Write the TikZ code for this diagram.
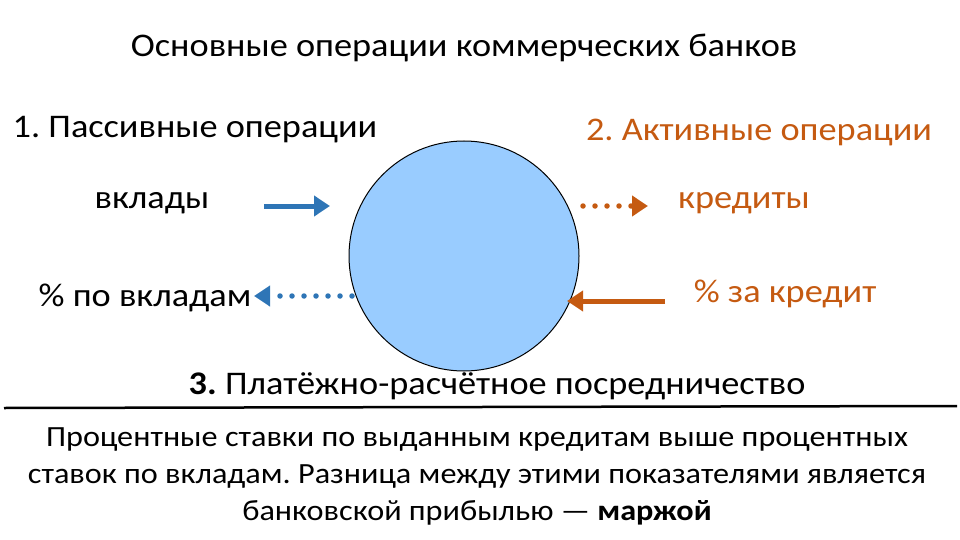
\documentclass[tikz,border=0pt]{standalone}
\usepackage{fontspec}
\setmainfont{Carlito}[FakeStretch=1.1]
\usetikzlibrary{arrows.meta}
\frenchspacing

\definecolor{bankblue}{HTML}{2E75B6}
\definecolor{bankorange}{HTML}{C55A11}
\definecolor{circlefill}{HTML}{99CCFF}

\begin{document}
\begin{tikzpicture}[x=1pt, y=-1pt,
    label/.style={inner sep=0pt, font=\fontsize{33}{36}\selectfont},
    flow/.style={line width=5pt, -{Triangle[length=16pt, width=20pt]}},
    dots/.style={line width=5.5pt, line cap=round, dash pattern=on 0pt off 12pt,
        -{Triangle[length=16pt, width=20pt, line cap=butt]}}]
    \useasboundingbox (0, 0) rectangle (960, 540);

    % Title
    \node[label] (Title) at (464, 48) {Основные операции коммерческих банков};

    % Bank
    \node[circle, draw, line width=1pt, fill=circlefill, inner sep=0pt,
        minimum size=230pt] (Bank) at (464, 256) {};

    % Passive operations
    \node[label] (Passive) at (195, 130) {1. Пассивные операции};
    \node[label] (Deposits) at (152, 203) {вклады};
    \node[label] (DepositRate) at (145, 298) {\% по вкладам};

    % Active operations
    \node[label, text=bankorange] (Active) at (759, 133) {2. Активные операции};
    \node[label, text=bankorange] (Credits) at (744, 203) {кредиты};
    \node[label, text=bankorange] (CreditRate) at (785, 294) {\% за кредит};

    % Flows
    \coordinate (DepIn-a) at (264, 206);
    \coordinate (DepIn-b) at (330, 206);
    \draw[flow, bankblue] (DepIn-a) -- (DepIn-b);
    \coordinate (DepOut-a) at (352, 296);
    \coordinate (DepOut-b) at (254, 296);
    \draw[dots, bankblue] (DepOut-a) -- (DepOut-b);
    \coordinate (CrOut-a) at (583, 206);
    \coordinate (CrOut-b) at (648, 206);
    \draw[dots, bankorange] (CrOut-a) -- (CrOut-b);
    \coordinate (CrIn-a) at (665, 301);
    \coordinate (CrIn-b) at (567, 301);
    \draw[flow, bankorange] (CrIn-a) -- (CrIn-b);

    % Settlement
    \node[label] (Settle) at (497, 386) {\textbf{3.} Платёжно-расчётное посредничество};
    \coordinate (Rule-a) at (4, 408);
    \coordinate (Rule-b) at (957, 406);
    \draw[line width=2.5pt] (Rule-a) -- (Rule-b);

    % Margin
    \node[label, align=center, font=\fontsize{29.3}{37}\selectfont] (Margin) at (477, 476)
        {Процентные ставки по выданным кредитам выше процентных\\
         ставок по вкладам. Разница между этими показателями является\\
         банковской прибылью — \textbf{маржой}};
\end{tikzpicture}
\end{document}
